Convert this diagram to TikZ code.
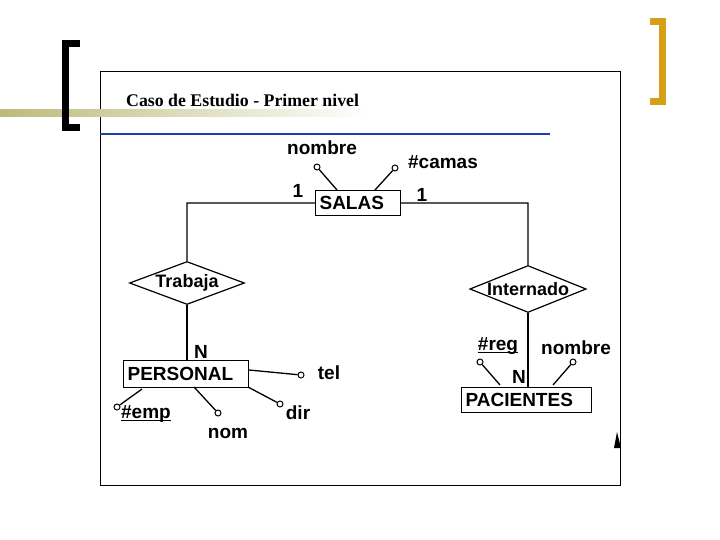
\documentclass[tikz,border=0pt]{standalone}
\usepackage{fontspec}
\setmainfont{Liberation Serif}
\setsansfont{Liberation Sans}
\usetikzlibrary{shapes.geometric}
\definecolor{gold}{RGB}{212,160,23}
\definecolor{olivebar}{RGB}{188,186,122}
\definecolor{blueline}{RGB}{30,62,170}
\tikzset{
  lbl/.style={font=\sffamily\bfseries\fontsize{19}{22}\selectfont, inner sep=0pt},
  ent/.style={draw, line width=1.2pt, font=\sffamily\bfseries\fontsize{19}{22}\selectfont, inner xsep=4pt, inner ysep=0pt, align=left, anchor=north west},
  rel/.style={draw, line width=1.2pt, shape=diamond, aspect=2.6, inner sep=0pt, font=\sffamily\bfseries\fontsize{18}{21}\selectfont},
  conn/.style={line width=1.3pt},
  attr/.style={draw, circle, line width=1pt, fill=white, inner sep=0pt, minimum size=6pt},
  uline/.style={line width=1.1pt}
}
\begin{document}
\begin{tikzpicture}[x=1pt,y=-1pt]
\useasboundingbox (0,0) rectangle (720,540);
% decoration
\draw[line width=0.8pt, fill=white] (100,71) rectangle (620,485);
\shade[left color=olivebar, right color=white] (0,110) rectangle (370,117);
\fill[black] (62,40) rectangle (69,131);
\fill[black] (62,40) rectangle (80,47);
\fill[black] (62,124) rectangle (80,131);
\fill[gold] (659,18) rectangle (666,105);
\fill[gold] (650,18) rectangle (666,25);
\fill[gold] (650,98) rectangle (666,105);
\node[font=\bfseries\fontsize{17.8}{20}\selectfont, anchor=west, inner sep=0pt] (title) at (126,100) {Caso de Estudio - Primer nivel};
\draw[blueline, line width=2pt] (100,134) -- (550,134);
% entities
\node[ent, text width=77pt, minimum height=25pt] (salas) at (315,190) {SALAS};
\node[ent, text width=117pt, minimum height=27pt] (personal) at (123,360) {PERSONAL};
\node[ent, text width=122pt, minimum height=25pt] (pacientes) at (461,387) {PACIENTES};
% relationships
\node[rel, minimum width=115pt, minimum height=43pt] (trabaja) at (187,283) {Trabaja};
\node[rel, minimum width=115pt, minimum height=47pt] (internado) at (528,289) {Internado};
% connectors
\coordinate (c1) at (187,203);
\coordinate (c2) at (528,203);
\draw[conn] (salas.west) -- (c1) -- (trabaja.north);
\draw[conn] (salas.east) -- (c2) -- (internado.north);
\draw[conn] (trabaja.south) -- (personal.north -| trabaja.south);
\draw[conn] (internado.south) -- (pacientes.north -| internado.south);
\node[lbl] (one1) at (298,191) {1};
\node[lbl] (one2) at (422,195) {1};
\node[lbl] (n1) at (201,352) {N};
\node[lbl] (n2) at (519,377) {N};
% SALAS attributes
\node[attr] (a1) at (317,167) {};
\node[lbl] (nombre1) at (322,148) {nombre};
\coordinate (s1) at (337,190);
\draw[conn] (a1) -- (s1);
\node[attr] (a2) at (395,168) {};
\node[lbl] (camas) at (443,162) {\#camas};
\coordinate (s2) at (375,190);
\draw[conn] (a2) -- (s2);
% PERSONAL attributes
\node[attr] (a3) at (301,375) {};
\node[lbl] (tel) at (329,373) {tel};
\coordinate (p1) at (249,370);
\draw[conn] (p1) -- (a3);
\node[attr] (a4) at (280,404) {};
\node[lbl] (dir) at (298,413) {dir};
\coordinate (p2) at (248,387);
\draw[conn] (p2) -- (a4);
\node[attr] (a5) at (218,413) {};
\node[lbl] (nom) at (228,433) {nom};
\coordinate (p3) at (194,387);
\draw[conn] (p3) -- (a5);
\node[attr] (a6) at (117,407) {};
\node[lbl] (emp) at (146,414) {\#emp};
\draw[uline] ([yshift=-2pt]emp.base west) -- ([yshift=-2pt]emp.base east);
\coordinate (p4) at (142,389);
\draw[conn] (p4) -- (a6);
% PACIENTES attributes
\node[attr] (a7) at (480,362) {};
\node[lbl] (reg) at (498,346) {\#reg};
\draw[uline] ([yshift=-2pt]reg.base west) -- ([yshift=-2pt]reg.base east);
\coordinate (q1) at (500,385);
\draw[conn] (a7) -- (q1);
\node[attr] (a8) at (573,362) {};
\node[lbl] (nombre2) at (576,348) {nombre};
\coordinate (q2) at (553,385);
\draw[conn] (a8) -- (q2);
% scan marks
\fill (617,432) -- (621,448) -- (614,448) -- cycle;
\draw[line width=1pt] (100,442) -- (100,450);
\end{tikzpicture}
\end{document}
